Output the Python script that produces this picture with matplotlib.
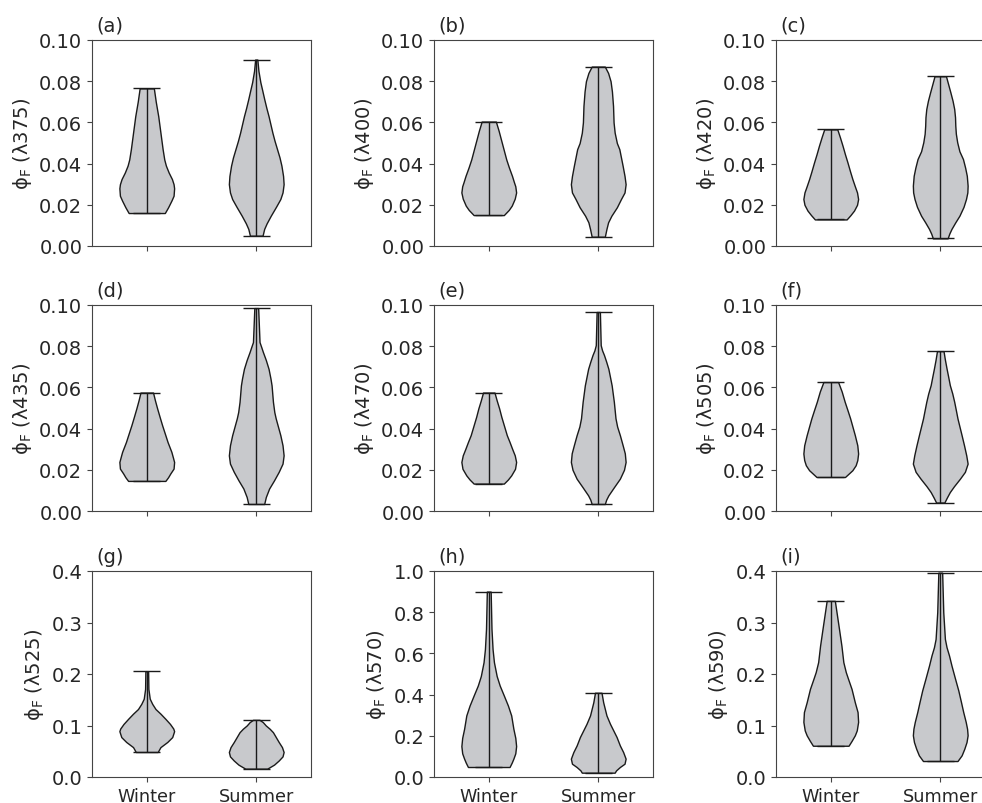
import numpy as np
import matplotlib
matplotlib.use('Agg')
import matplotlib.pyplot as plt

# seasons on the x axis
seasons = ['Winter', 'Summer']
panel_tags = ['(a)', '(b)', '(c)', '(d)', '(e)', '(f)', '(g)', '(h)', '(i)']
wavelengths = ['375', '400', '420', '435', '470', '505', '525', '570', '590']
ylims = [0.10, 0.10, 0.10, 0.10, 0.10, 0.10, 0.4, 1.0, 0.4]
ysteps = [0.02, 0.02, 0.02, 0.02, 0.02, 0.02, 0.1, 0.2, 0.1]

# violin outlines: y values (bottom -> top) and relative half width
winter_y = [
    [0.016, 0.0188, 0.022, 0.0244, 0.028, 0.030, 0.0325, 0.0357, 0.039, 0.042, 0.047, 0.055, 0.063, 0.070, 0.0765],
    [0.015, 0.0175, 0.0196, 0.023, 0.026, 0.029, 0.031, 0.034, 0.038, 0.042, 0.047, 0.052, 0.056, 0.0604],
    [0.0129, 0.015, 0.0172, 0.020, 0.0228, 0.026, 0.029, 0.0325, 0.036, 0.0406, 0.0445, 0.0487, 0.053, 0.0566],
    [0.0146, 0.0164, 0.0182, 0.0206, 0.0238, 0.0258, 0.0287, 0.0335, 0.0368, 0.0417, 0.0457, 0.0498, 0.0537, 0.0575],
    [0.0133, 0.0153, 0.0173, 0.0205, 0.0238, 0.027, 0.030, 0.0335, 0.0368, 0.0417, 0.0457, 0.0498, 0.0537, 0.0575],
    [0.0165, 0.0198, 0.0222, 0.0247, 0.0279, 0.0319, 0.0368, 0.0449, 0.049, 0.053, 0.058, 0.0626],
    [0.0485, 0.058, 0.068, 0.0775, 0.089, 0.094, 0.103, 0.113, 0.123, 0.132, 0.142, 0.152, 0.171, 0.2055],
    [0.0485, 0.07, 0.089, 0.115, 0.15, 0.19, 0.234, 0.299, 0.347, 0.396, 0.444, 0.49, 0.557, 0.62, 0.719, 0.90],
    [0.0607, 0.07, 0.081, 0.0905, 0.107, 0.126, 0.145, 0.171, 0.191, 0.2036, 0.223, 0.255, 0.288, 0.342],
]
winter_w = [
    [0.66, 0.78, 0.90, 0.98, 1.0, 0.98, 0.92, 0.80, 0.70, 0.64, 0.58, 0.50, 0.42, 0.33, 0.26],
    [0.55, 0.73, 0.84, 0.95, 1.0, 0.97, 0.92, 0.85, 0.74, 0.64, 0.54, 0.44, 0.36, 0.26],
    [0.58, 0.72, 0.85, 0.96, 1.0, 0.96, 0.88, 0.79, 0.71, 0.61, 0.52, 0.43, 0.33, 0.24],
    [0.68, 0.78, 0.86, 0.98, 1.0, 0.96, 0.90, 0.76, 0.68, 0.56, 0.47, 0.38, 0.30, 0.23],
    [0.55, 0.70, 0.82, 0.96, 1.0, 0.95, 0.86, 0.76, 0.66, 0.55, 0.46, 0.38, 0.29, 0.21],
    [0.52, 0.79, 0.91, 0.97, 1.0, 0.97, 0.88, 0.71, 0.61, 0.51, 0.40, 0.27],
    [0.40, 0.50, 0.75, 0.93, 1.0, 0.97, 0.85, 0.68, 0.50, 0.32, 0.20, 0.11, 0.06, 0.05],
    [0.76, 0.84, 0.90, 0.97, 1.0, 0.97, 0.90, 0.82, 0.70, 0.55, 0.40, 0.29, 0.19, 0.14, 0.10, 0.07],
    [0.65, 0.76, 0.88, 0.95, 1.0, 0.98, 0.88, 0.76, 0.63, 0.55, 0.46, 0.39, 0.30, 0.15],
]
summer_y = [
    [0.005, 0.0083, 0.011, 0.0147, 0.019, 0.0228, 0.026, 0.030, 0.034, 0.039, 0.043, 0.047, 0.051, 0.055,
     0.059, 0.063, 0.067, 0.0714, 0.0755, 0.0795, 0.085, 0.0905],
    [0.0045, 0.0083, 0.0115, 0.0147, 0.0188, 0.0228, 0.026, 0.030, 0.034, 0.039, 0.047, 0.050, 0.055,
     0.060, 0.068, 0.075, 0.080, 0.084, 0.0871],
    [0.0037, 0.006, 0.0083, 0.0115, 0.0147, 0.019, 0.0228, 0.026, 0.0293, 0.0341, 0.038, 0.0422, 0.046,
     0.0503, 0.0545, 0.0584, 0.0625, 0.0665, 0.0705, 0.0746, 0.0785, 0.0824],
    [0.0034, 0.0068, 0.0109, 0.0149, 0.019, 0.023, 0.027, 0.0319, 0.0368, 0.045, 0.048, 0.053, 0.061,
     0.0643, 0.069, 0.0733, 0.0773, 0.0797, 0.082, 0.0985],
    [0.0034, 0.0055, 0.0076, 0.0115, 0.0157, 0.020, 0.0238, 0.028, 0.032, 0.0368, 0.041, 0.045, 0.049,
     0.053, 0.057, 0.061, 0.065, 0.069, 0.0725, 0.0757, 0.078, 0.0805, 0.0966],
    [0.0041, 0.0065, 0.0092, 0.012, 0.0157, 0.019, 0.023, 0.027, 0.0318, 0.0368, 0.0449, 0.049, 0.053,
     0.057, 0.0611, 0.0652, 0.0692, 0.0735, 0.0776],
    [0.0162, 0.024, 0.032, 0.040, 0.0485, 0.058, 0.068, 0.087, 0.0937, 0.100, 0.1066, 0.111],
    [0.021, 0.032, 0.0485, 0.0646, 0.089, 0.121, 0.153, 0.194, 0.234, 0.258, 0.299, 0.363, 0.409],
    [0.031, 0.042, 0.055, 0.0679, 0.081, 0.0937, 0.107, 0.126, 0.145, 0.168, 0.191, 0.2165, 0.236,
     0.252, 0.268, 0.32, 0.3968],
]
summer_w = [
    [0.23, 0.29, 0.38, 0.53, 0.72, 0.88, 0.96, 1.0, 0.98, 0.92, 0.85, 0.76, 0.67, 0.59,
     0.52, 0.45, 0.37, 0.29, 0.22, 0.15, 0.08, 0.04],
    [0.24, 0.30, 0.36, 0.48, 0.68, 0.83, 0.96, 1.0, 0.96, 0.89, 0.77, 0.68, 0.60,
     0.56, 0.54, 0.50, 0.45, 0.36, 0.24],
    [0.27, 0.33, 0.41, 0.55, 0.70, 0.85, 0.94, 0.99, 1.0, 0.97, 0.91, 0.83, 0.70,
     0.62, 0.57, 0.55, 0.54, 0.51, 0.45, 0.37, 0.29, 0.21],
    [0.29, 0.35, 0.47, 0.65, 0.82, 0.96, 1.0, 0.96, 0.88, 0.71, 0.66, 0.61, 0.56,
     0.52, 0.45, 0.35, 0.24, 0.18, 0.12, 0.07],
    [0.24, 0.29, 0.37, 0.57, 0.79, 0.94, 1.0, 0.97, 0.89, 0.79, 0.69, 0.63, 0.60,
     0.57, 0.53, 0.49, 0.43, 0.37, 0.29, 0.21, 0.14, 0.09, 0.06],
    [0.15, 0.24, 0.35, 0.50, 0.72, 0.90, 1.0, 0.95, 0.87, 0.78, 0.63, 0.57, 0.51,
     0.44, 0.35, 0.29, 0.23, 0.17, 0.12],
    [0.40, 0.65, 0.82, 0.96, 1.0, 0.94, 0.82, 0.61, 0.49, 0.35, 0.24, 0.12],
    [0.60, 0.65, 0.79, 0.96, 1.0, 0.91, 0.79, 0.67, 0.52, 0.43, 0.30, 0.18, 0.12],
    [0.63, 0.78, 0.88, 0.96, 1.0, 0.98, 0.93, 0.84, 0.76, 0.66, 0.54, 0.41, 0.32,
     0.23, 0.17, 0.11, 0.07],
]

plt.rcParams['font.family'] = 'DejaVu Sans'
text_col = '#262626'

fig = plt.figure(figsize=(9.82, 8.04), dpi=100)
W, H = 982.0, 804.0
col_left = [92, 434, 776]
row_bottom = [247, 512, 778]
ax_w, ax_h = 219, 206


def stats(ys, ws):
    return {'coords': np.array(ys), 'vals': np.array(ws),
            'mean': np.mean(ys), 'median': np.median(ys),
            'min': ys[0], 'max': ys[-1]}


for i in range(9):
    r, c = divmod(i, 3)
    ax = fig.add_axes([col_left[c] / W, (H - row_bottom[r]) / H, ax_w / W, ax_h / H])
    parts = ax.violin([stats(winter_y[i], winter_w[i]), stats(summer_y[i], summer_w[i])],
                      positions=[1, 2], widths=0.5, showextrema=True)
    for b in parts['bodies']:
        b.set_facecolor('#c8c9cc')
        b.set_edgecolor('#1a1a1a')
        b.set_linewidth(1.0)
        b.set_alpha(1)
    for key in ['cmins', 'cmaxes', 'cbars']:
        parts[key].set_color('#1a1a1a')
        parts[key].set_linewidth(1.0)

    ax.set_xlim(0.5, 2.5)
    ax.set_ylim(0, ylims[i])
    ax.set_yticks(np.arange(0, ylims[i] + ysteps[i] / 2, ysteps[i]))
    if ylims[i] < 0.2:
        ax.set_yticklabels(['%.2f' % v for v in ax.get_yticks()])
    else:
        ax.set_yticklabels(['%.1f' % v for v in ax.get_yticks()])
    ax.set_xticks([1, 2])
    if r == 2:
        ax.set_xticklabels(seasons, fontsize=12.7, color=text_col)
    else:
        ax.set_xticklabels([])
    ax.tick_params(axis='y', labelsize=14, labelcolor=text_col, color='#444444')
    ax.tick_params(axis='x', color='#444444')
    for s in ax.spines.values():
        s.set_color('#444444')
    ax.set_ylabel('ϕ$_\\mathrm{F}$ (λ' + wavelengths[i] + ')', fontsize=14, color=text_col)
    ax.text(0.02, 1.025, panel_tags[i], transform=ax.transAxes, fontsize=14,
            color=text_col, va='bottom', ha='left')

plt.savefig('out.png', dpi=100)
